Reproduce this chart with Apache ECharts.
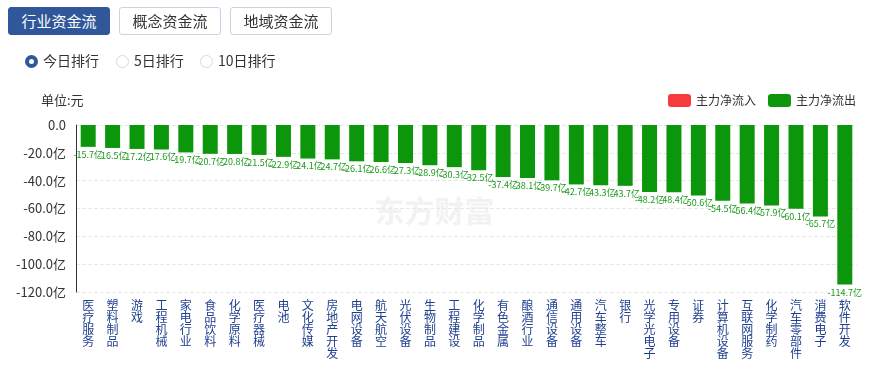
<!DOCTYPE html>
<html><head><meta charset="utf-8">
<script src="https://cdn.jsdelivr.net/npm/echarts@6/dist/echarts.min.js"></script>
<style>
html,body{margin:0;padding:0;background:#fff;font-family:"Noto Sans CJK SC","Noto Sans",sans-serif;}
#wrap{position:relative;width:869px;height:367px;overflow:hidden;}
#chart{position:absolute;left:0;top:0;width:869px;height:367px;}
.btn{position:absolute;top:7px;height:28px;width:102px;box-sizing:border-box;border:1px solid #c9d3e3;border-radius:3px;font-size:15px;line-height:26px;text-align:center;color:#333;background:#fff;z-index:2;}
.btn.on{background:#30579a;border-color:#30579a;color:#fff;}
.radio{position:absolute;top:51px;font-size:14px;color:#333;z-index:2;line-height:18px;}
.radio i{display:inline-block;width:13px;height:13px;border:1px solid #d3d8e0;border-radius:50%;vertical-align:-2px;margin-right:5px;box-sizing:border-box;}
.radio i.on{border:4px solid #30579a;}
</style></head>
<body><div id="wrap">
<div id="chart"></div>
<div class="btn on" style="left:8px">行业资金流</div>
<div class="btn" style="left:119px">概念资金流</div>
<div class="btn" style="left:230px">地域资金流</div>
<div class="radio" style="left:25px"><i class="on"></i>今日排行</div>
<div class="radio" style="left:116px"><i></i>5日排行</div>
<div class="radio" style="left:200px"><i></i>10日排行</div>
</div>
<script>
const categories = ["医疗服务","塑料制品","游戏","工程机械","家电行业","食品饮料","化学原料","医疗器械","电池","文化传媒","房地产开发","电网设备","航天航空","光伏设备","生物制品","工程建设","化学制品","有色金属","酿酒行业","通信设备","通用设备","汽车整车","银行","光学光电子","专用设备","证券","计算机设备","互联网服务","化学制药","汽车零部件","消费电子","软件开发"];
const outflow = [-15.7,-16.5,-17.2,-17.6,-19.7,-20.7,-20.8,-21.5,-22.9,-24.1,-24.7,-26.1,-26.6,-27.3,-28.9,-30.3,-32.5,-37.4,-38.1,-39.7,-42.7,-43.3,-43.7,-48.2,-48.4,-50.6,-54.5,-56.4,-57.9,-60.1,-65.7,-114.7];
const inflow = [];
const yTicks = {min:-120, max:0, interval:20};
const FONT = '"Noto Sans CJK SC","Noto Sans",sans-serif';

const chart = echarts.init(document.getElementById('chart'));
chart.setOption({
  animation:false,
  textStyle:{fontFamily:FONT},
  title:{text:'单位:元',left:36,top:89,textStyle:{fontSize:13,fontWeight:'normal',color:'#333',fontFamily:FONT}},
  legend:{right:8,top:89,itemWidth:23,itemHeight:13,itemGap:12,itemStyle:{borderRadius:3},
    textStyle:{fontSize:12,color:'#333',fontFamily:FONT},data:['主力净流入','主力净流出']},
  graphic:[{type:'text',left:'center',top:196,z:-1,style:{text:'东方财富',fontSize:30,fontWeight:'bold',fill:'#f2f2f2',fontFamily:FONT}}],
  grid:{left:76,right:12,top:125,bottom:75},
  xAxis:{type:'category',data:categories,axisLine:{show:false},axisTick:{show:false},
    axisLabel:{interval:0,margin:7,fontSize:12,lineHeight:12,color:'#1f3f8f',fontFamily:FONT,verticalAlign:'top',
      formatter:v=>v.split('').join('\n')}},
  yAxis:{type:'value',min:yTicks.min,max:yTicks.max,interval:yTicks.interval,
    axisLine:{show:true,lineStyle:{color:'#333',width:1}},axisTick:{show:false},
    splitLine:{lineStyle:{type:'dashed',color:'#e8e8e8'}},
    axisLabel:{fontSize:13,color:'#333',margin:10,fontFamily:FONT,formatter:v=>v===0?'0.0':v.toFixed(1)+'亿'}},
  series:[
    {name:'主力净流入',type:'bar',stack:'s',data:inflow,itemStyle:{color:'#f53b3b'}},
    {name:'主力净流出',type:'bar',stack:'s',data:outflow,barWidth:15,itemStyle:{color:'#0b960b'},
      label:{show:true,position:'bottom',distance:3,fontSize:9,color:'#1b9a1b',fontFamily:FONT,textBorderWidth:0,textBorderColor:'transparent',
        formatter:p=>p.value.toFixed(1)+'亿'}}
  ]
});
</script></body></html>
